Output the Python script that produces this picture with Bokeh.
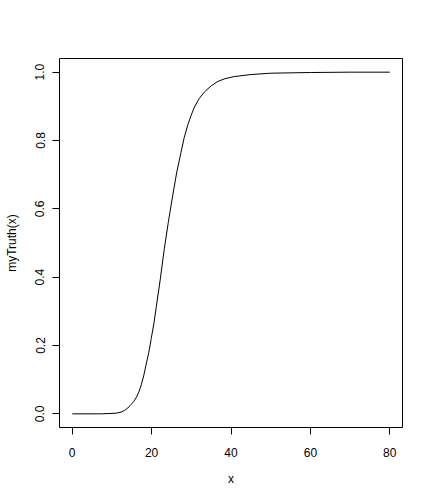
from bokeh.plotting import figure
from bokeh.models import Range1d, FixedTicker, PrintfTickFormatter, ColumnDataSource
from bokeh.embed import file_html
from bokeh.resources import INLINE

x_vals = [0, 5, 7.3, 9.5, 11.1, 12.3, 13.2, 14.0, 14.8, 15.5, 16.1, 16.8, 17.4, 18.0,
          18.6, 19.3, 19.9, 20.6, 21.2, 22.2, 23.2, 24.2, 25.3, 26.3, 27.4, 28.2, 29.1,
          30.0, 30.8, 32.0, 33.3, 35.0, 36.7, 38.5, 40.8, 45, 50, 60, 70, 80]
y_vals = [0.0, 0.0, 0.0, 0.001, 0.002, 0.005, 0.01, 0.017, 0.027, 0.036, 0.047, 0.064,
          0.085, 0.111, 0.143, 0.18, 0.22, 0.266, 0.315, 0.395, 0.483, 0.56, 0.638,
          0.705, 0.765, 0.808, 0.845, 0.875, 0.898, 0.923, 0.942, 0.96, 0.973, 0.981,
          0.987, 0.993, 0.997, 0.999, 1.0, 1.0]
x_ticks = [0, 20, 40, 60, 80]
y_ticks = [0.0, 0.2, 0.4, 0.6, 0.8, 1.0]
x_label = "x"
y_label = "myTruth(x)"

FONT = "Liberation Sans"

p = figure(width=416, height=488, output_backend="svg", toolbar_location=None,
           x_range=Range1d(-3.2, 83.2), y_range=Range1d(-0.04, 1.04),
           min_border_left=59, min_border_right=14, min_border_top=58, min_border_bottom=58)
p.grid.visible = False
p.background_fill_color = "white"
p.border_fill_color = "white"
p.outline_line_color = "black"
p.outline_line_width = 1
p.outline_line_alpha = 1

src = ColumnDataSource(dict(x=x_vals, y=y_vals))
p.line("x", "y", source=src, line_color="black", line_width=1, line_join="round")

for ax in (p.xaxis[0], p.yaxis[0]):
    ax.axis_line_color = None
    ax.major_tick_in = 0
    ax.major_tick_out = 7
    ax.minor_tick_out = 0
    ax.minor_tick_in = 0
    ax.major_tick_line_color = "black"
    ax.major_label_text_font = FONT
    ax.major_label_text_font_size = "12px"
    ax.major_label_text_color = "black"
    ax.axis_label_text_font = FONT
    ax.axis_label_text_font_size = "12px"
    ax.axis_label_text_font_style = "normal"
    ax.axis_label_text_color = "black"

p.xaxis.ticker = FixedTicker(ticks=x_ticks)
p.yaxis.ticker = FixedTicker(ticks=y_ticks)
p.yaxis.formatter = PrintfTickFormatter(format="%.1f")
p.yaxis.major_label_orientation = "vertical"
p.xaxis.axis_label = x_label
p.yaxis.axis_label = y_label
p.xaxis.major_label_standoff = 13
p.yaxis.major_label_standoff = 8
p.xaxis.axis_label_standoff = 12
p.yaxis.axis_label_standoff = 14

open("out.html", "w").write(file_html(p, INLINE))
